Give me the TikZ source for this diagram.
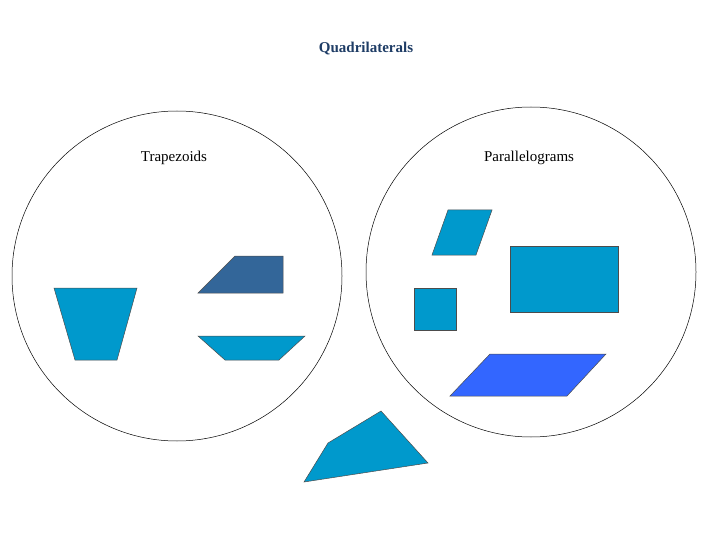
\documentclass[tikz,border=0pt]{standalone}
\usepackage{fontspec}
\setmainfont{Liberation Serif}
\begin{document}
\begin{tikzpicture}[x=1pt,y=-1pt,
  ring/.style={draw=black,line width=0.5pt},
  shp/.style={draw=black!70,line width=0.5pt,fill=#1},
  lbl/.style={font=\fontsize{15}{18}\selectfont}]
\definecolor{tb}{HTML}{0099CC}
\definecolor{db}{HTML}{336699}
\definecolor{bb}{HTML}{3366FF}
\definecolor{tt}{HTML}{1F3D66}
\useasboundingbox (0,0) rectangle (720,540);
\node[font=\bfseries\fontsize{15}{18}\selectfont,text=tt] (title) at (366,49) {Quadrilaterals};
\draw[ring] (177,276) circle[radius=165];
\draw[ring] (531,272) circle[radius=165];
\node[lbl] (trap) at (174,158) {Trapezoids};
\node[lbl] (para) at (529,158) {Parallelograms};
\draw[shp=tb] (54,288) -- (137,288) -- (117,360) -- (75,360) -- cycle;
\draw[shp=db] (198,293) -- (283,293) -- (283,256) -- (235,256) -- cycle;
\draw[shp=tb] (198,336) -- (305,336) -- (279,360) -- (225,360) -- cycle;
\draw[shp=tb] (304,482) -- (428,463) -- (381,411) -- (328,443) -- cycle;
\draw[shp=tb] (432,255) -- (476,255) -- (492,210) -- (448,210) -- cycle;
\draw[shp=tb] (510,246) rectangle (618,312);
\draw[shp=tb] (414,288) rectangle (456,330);
\draw[shp=bb] (450,396) -- (567,396) -- (606,354) -- (490,354) -- cycle;
\end{tikzpicture}
\end{document}
